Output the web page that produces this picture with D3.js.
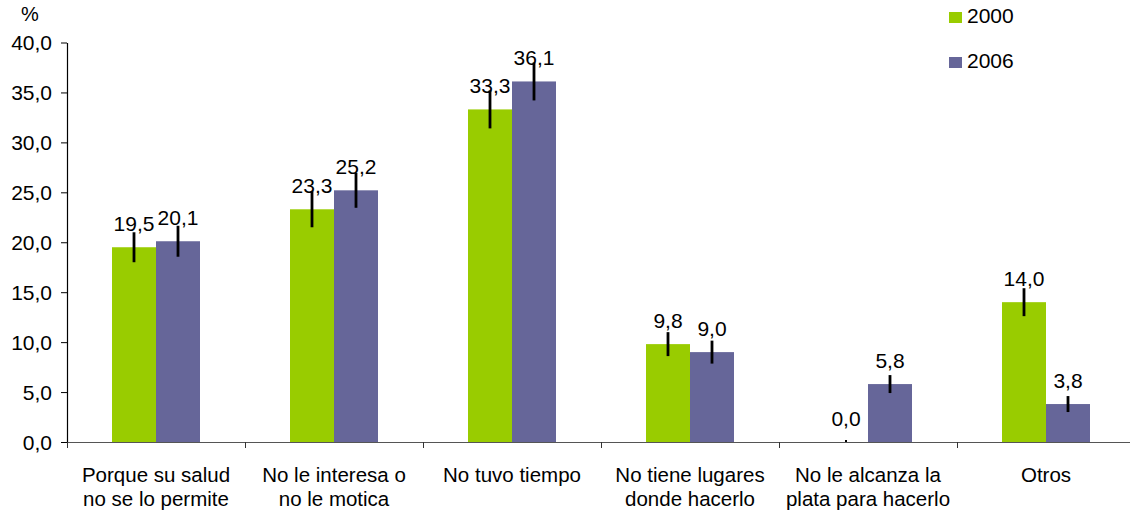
<!DOCTYPE html>
<html><head><meta charset="utf-8">
<script src="https://cdn.jsdelivr.net/npm/d3@7"></script>
<style>body{margin:0;background:#fff}svg{display:block;font-family:"Liberation Sans",Arial,sans-serif}</style>
</head><body>
<svg id="c" width="1130" height="516"></svg>
<script>
const categories = [
  ["Porque su salud","no se lo permite"],
  ["No le interesa o","no le motica"],
  ["No tuvo tiempo"],
  ["No tiene lugares","donde hacerlo"],
  ["No le alcanza la","plata para hacerlo"],
  ["Otros"]
];
const seriesNames = ["2000","2006"];
const values2000 = [19.5, 23.3, 33.3, 9.8, 0.0, 14.0];
const values2006 = [20.1, 25.2, 36.1, 9.0, 5.8, 3.8];
const err2000 = [1.5, 1.8, 1.9, 1.2, 0.0, 1.4];
const err2006 = [1.55, 1.75, 1.9, 1.15, 0.9, 0.8];
const yTicks = [0,5,10,15,20,25,30,35,40];
const colors = ["#99cc00","#666699"];

const svg = d3.select("#c");
const idx = categories.map((d,i)=>i);
const x0 = d3.scaleBand().domain(idx).range([67,1135]).padding(0);
const groupW = 88;
const x1 = d3.scaleBand().domain(seriesNames).range([0,groupW]);
const y = d3.scaleLinear().domain([0,40]).range([442,42.5]);
const fmt = v => d3.format(".1f")(v).replace(".", ",");

const data = [];
seriesNames.forEach((s,si)=>{
  const vals = si===0?values2000:values2006;
  const errs = si===0?err2000:err2006;
  idx.forEach(i=>data.push({s,si,i,v:vals[i],e:errs[i]}));
});
const bx = d => x0(d.i) + (x0.bandwidth()-groupW)/2 + x1(d.s);

// bars
svg.append("g").selectAll("rect").data(data.filter(d=>d.v>0)).join("rect")
  .attr("x",bx).attr("width",x1.bandwidth())
  .attr("y",d=>y(d.v)).attr("height",d=>y(0)-y(d.v))
  .attr("fill",d=>colors[d.si]);

// y axis
const yAxis = d3.axisLeft(y).tickValues(yTicks).tickFormat(fmt).tickSize(6).tickSizeOuter(0);
const gy = svg.append("g").attr("transform","translate(67,0)").call(yAxis);
gy.select(".domain").attr("stroke","#000").attr("stroke-width",1.2);
gy.selectAll(".tick line").attr("stroke","#000");
gy.selectAll(".tick text").attr("font-size",21).attr("fill","#000").attr("x",-15).attr("dy","0.35em")
  .style("font-family","'Liberation Sans',Arial,sans-serif");

// x axis
const xAxis = d3.axisBottom(d3.scaleLinear().domain([0,6]).range([67,1135]))
  .tickValues([0,1,2,3,4,5,6]).tickSize(6).tickSizeOuter(0).tickFormat("");
const gx = svg.append("g").attr("transform","translate(0,442)").call(xAxis);
gx.select(".domain").attr("stroke","#555").attr("stroke-width",1.2);
gx.selectAll(".tick line").attr("stroke","#333");

// category labels
const cl = svg.append("g").selectAll("text").data(idx).join("text")
  .attr("x",i=>x0(i)+x0.bandwidth()/2).attr("y",482)
  .attr("text-anchor","middle").attr("font-size",20.5).attr("fill","#000");
cl.each(function(i){
  const t = d3.select(this);
  categories[i].forEach((line,k)=>{
    t.append("tspan").attr("x",x0(i)+x0.bandwidth()/2).attr("dy",k===0?0:24).text(line);
  });
});

// error bars
svg.append("g").selectAll("line").data(data).join("line")
  .attr("x1",d=>bx(d)+x1.bandwidth()/2).attr("x2",d=>bx(d)+x1.bandwidth()/2)
  .attr("y1",d=>y(d.v+d.e)).attr("y2",d=>y(Math.max(0,d.v-d.e)))
  .attr("stroke","#000").attr("stroke-width",2.8).attr("stroke-linecap","butt");
svg.append("g").selectAll("rect").data(data.filter(d=>d.e===0)).join("rect")
  .attr("x",d=>bx(d)+x1.bandwidth()/2-1).attr("y",y(0)-2).attr("width",2).attr("height",2).attr("fill","#000");

// data labels
svg.append("g").selectAll("text").data(data).join("text")
  .attr("x",d=>bx(d)+x1.bandwidth()/2).attr("y",d=>y(d.v)-16)
  .attr("text-anchor","middle").attr("font-size",21).attr("fill","#000")
  .text(d=>fmt(d.v));

// % label
svg.append("text").attr("x",30).attr("y",21).attr("text-anchor","middle").attr("font-size",20).text("%");

// legend
const lg = svg.append("g").selectAll("g").data(seriesNames).join("g")
  .attr("transform",(d,i)=>`translate(949,${12+i*45})`);
lg.append("rect").attr("width",13).attr("height",11).attr("fill",(d,i)=>colors[i]);
lg.append("text").attr("x",18).attr("y",11).attr("font-size",21).text(d=>d);
</script>
</body></html>
